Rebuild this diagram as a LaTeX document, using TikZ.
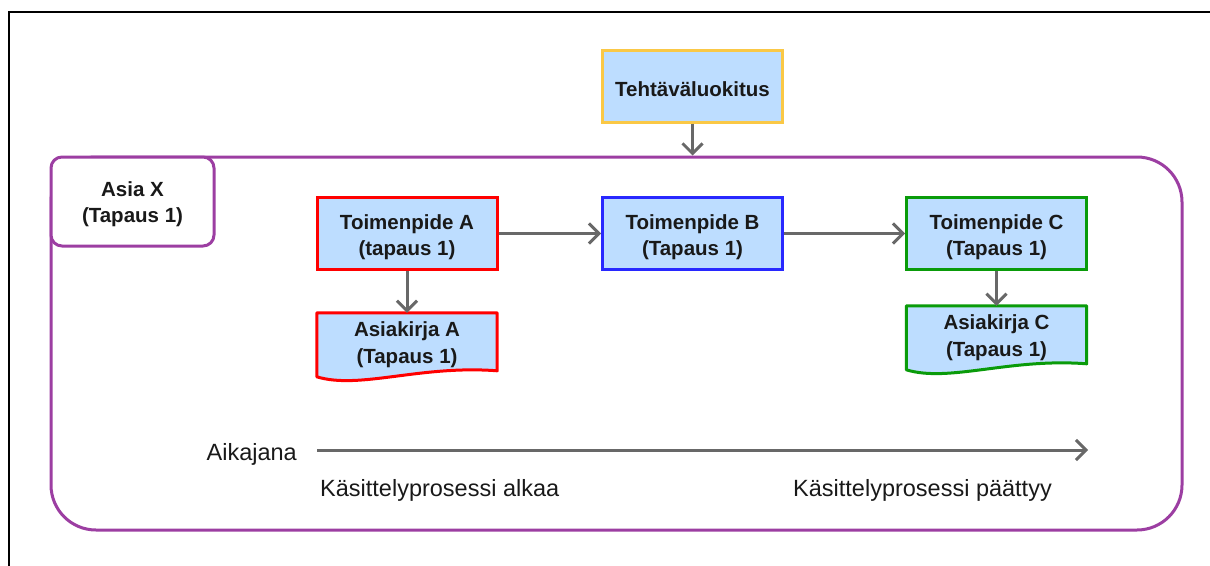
\documentclass[tikz,border=0pt]{standalone}
\usepackage{fontspec}
\setmainfont{Liberation Sans}
\usetikzlibrary{arrows.meta,calc}

\definecolor{boxfill}{RGB}{189,221,255}
\definecolor{purp}{RGB}{156,62,162}
\definecolor{arrgray}{RGB}{104,104,104}
\definecolor{redb}{RGB}{255,0,0}
\definecolor{blueb}{RGB}{40,40,255}
\definecolor{greenb}{RGB}{10,155,10}
\definecolor{yellowb}{RGB}{250,200,70}
\definecolor{txt}{RGB}{25,25,25}

\tikzset{
  boxtext/.style={align=center, text=txt, inner sep=0pt,
    font=\fontsize{20.5}{26.5}\selectfont\bfseries},
  stepbox/.style={rectangle, fill=boxfill, line width=3pt, minimum width=180pt,
    minimum height=72pt, inner sep=0pt,
    label={[boxtext, yshift=-3.5pt]center:#1}},
  docarea/.style={rectangle, minimum width=180pt, minimum height=64pt, inner sep=0pt},
  container/.style={rectangle, draw=purp, line width=3pt, rounded corners=45pt,
    minimum width=1131pt, minimum height=373pt, inner sep=0pt},
  tabbox/.style={rectangle, draw=purp, fill=white, line width=3pt, rounded corners=11pt,
    minimum width=163pt, minimum height=89pt, inner sep=0pt,
    label={[boxtext, yshift=-2.5pt]center:#1}},
  flow/.style={draw=arrgray, line width=3pt,
    -{Straight Barb[length=10pt,width=20pt,line width=3pt]}},
  plain/.style={text=txt, font=\fontsize{23.5}{28}\selectfont, inner sep=0pt}
}

% document shape with wavy lower edge, drawn around a named node
\newcommand{\docshape}[2]{%
  \path[fill=boxfill, draw=#2, line width=3pt, line join=round]
    (#1.north west) -- (#1.north east) -- ++(0,58)
    .. controls +(-77,-6) and +(43,13) .. ($(#1.north west)+(0,64)$) -- cycle;}

\begin{document}
\begin{tikzpicture}[x=1pt, y=-1pt]
\useasboundingbox (0,0) rectangle (1210,565);

% frame edges
\draw[line width=2pt] (9,566) -- (9,12) -- (1211,12);

% the case container and its tab
\node[container] (asia) at (616.5,343.5) {};
\node[tabbox={Asia X\\(Tapaus 1)}] (tab) at (132.5,201.5) {};

% classification box above the container
\node[stepbox={Tehtäväluokitus}, draw=yellowb] (teh) at (692.5,86) {};

% actions
\node[stepbox={Toimenpide A\\(tapaus 1)}, draw=redb]   (tA) at (407,233.5) {};
\node[stepbox={Toimenpide B\\(Tapaus 1)}, draw=blueb]  (tB) at (692.5,233.5) {};
\node[stepbox={Toimenpide C\\(Tapaus 1)}, draw=greenb] (tC) at (996.5,233.5) {};

% documents
\node[docarea] (dA) at (407,345) {};
\docshape{dA}{redb}
\node[boxtext] (dAt) at (407,344.5) {Asiakirja A\\(Tapaus 1)};

\node[docarea] (dC) at (996.5,338) {};
\docshape{dC}{greenb}
\node[boxtext] (dCt) at (996.5,337.5) {Asiakirja C\\(Tapaus 1)};

% connectors
\draw[flow] (teh.south) -- (teh.south |- asia.north);
\draw[flow] (tA.east) -- (tB.west);
\draw[flow] (tB.east) -- (tC.west);
\draw[flow] (tA.south) -- (dA.north);
\draw[flow] (tC.south) -- (dC.north);

% timeline
\coordinate (tl0) at (317,450);
\coordinate (tl1) at (1088,450);
\draw[flow] (tl0) -- (tl1);
\node[plain, anchor=east] (aika) at (297,454) {Aikajana};
\node[plain, anchor=west] (alku) at (320,490) {Käsittelyprosessi alkaa};
\node[plain, anchor=west] (loppu) at (793,490) {Käsittelyprosessi päättyy};
\end{tikzpicture}
\end{document}
